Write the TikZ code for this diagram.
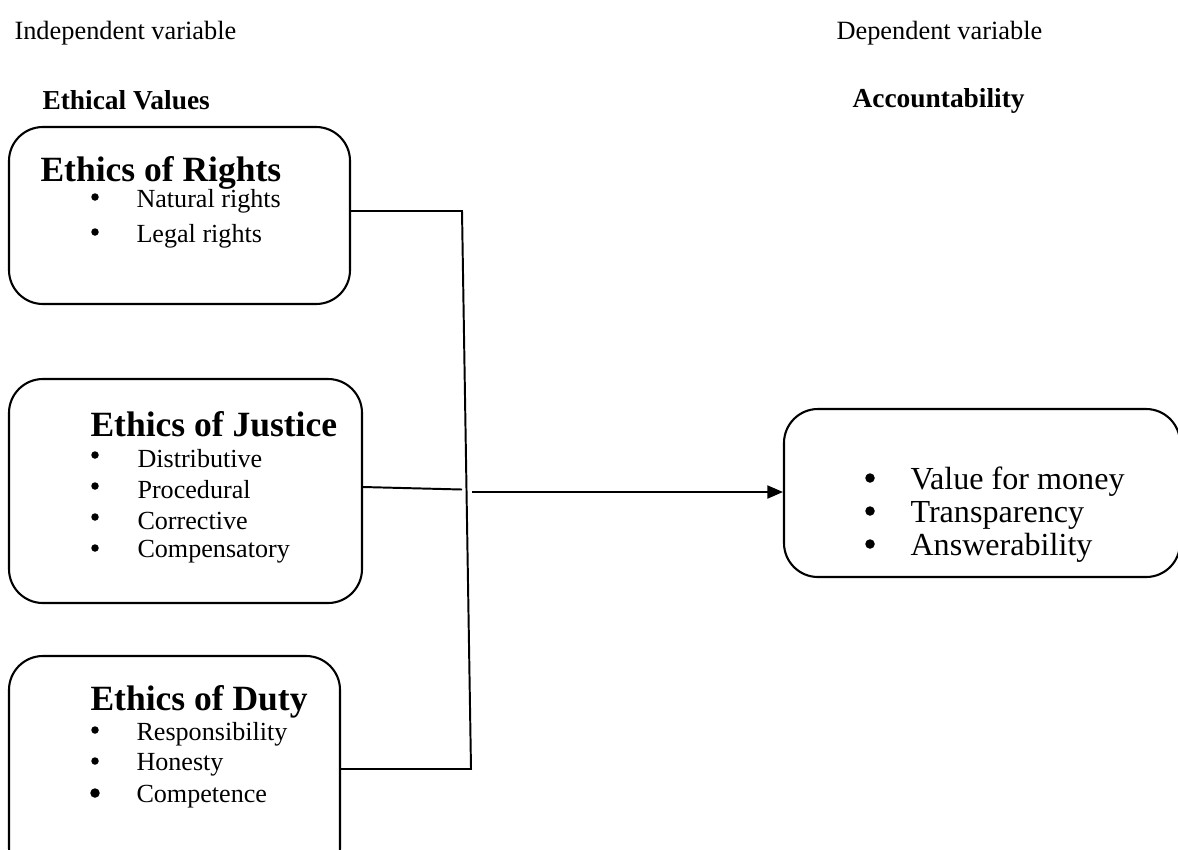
\documentclass[tikz,border=0pt]{standalone}
\usepackage{fontspec}
\setmainfont{Liberation Serif}
\usetikzlibrary{arrows.meta,calc}
\begin{document}
\begin{tikzpicture}[x=0.383pt,y=-0.383pt,
  box/.style={draw,line width=0.8pt,rounded corners=13pt,inner sep=0pt},
  plain/.style={font=\fontsize{10.1}{12}\selectfont,anchor=west,inner sep=0pt},
  head/.style={font=\fontsize{10.5}{12}\selectfont\bfseries,anchor=west,inner sep=0pt},
  bhead/.style={font=\fontsize{13.6}{16}\selectfont\bfseries,anchor=west,inner sep=0pt},
  item/.style={font=\fontsize{10}{12}\selectfont,anchor=west,inner sep=0pt},
  bul/.style={circle,fill,inner sep=0pt,minimum size=7.5*0.383pt},
  bigbul/.style={circle,fill,inner sep=0pt,minimum size=9.5*0.383pt},
  ritem/.style={font=\fontsize{12.3}{14}\selectfont,anchor=west,inner sep=0pt},
  conn/.style={line width=0.75pt}]
\useasboundingbox (0,0) rectangle (1178,849);
\clip (0,0) rectangle (1178,849);
% headers
\node[plain] (t1) at (14,33) {Independent variable};
\node[head] (t2) at (42,100) {Ethical Values};
\node[plain] (t3) at (836,33) {Dependent variable};
\node[head] (t4) at (852,101) {Accountability};
% boxes
\node[box,minimum width=341*0.383pt,minimum height=177*0.383pt] (b1) at (179.5,215.5) {};
\node[box,minimum width=353*0.383pt,minimum height=224*0.383pt] (b2) at (185.5,491) {};
\node[box,minimum width=331*0.383pt,minimum height=226*0.383pt] (b3) at (174.5,769) {};
\node[box,minimum width=396*0.383pt,minimum height=168*0.383pt] (rb) at (982,493) {};
% box 1
\node[bhead] (h1) at (40,173) {Ethics of Rights};
\node[bul] (u11) at (95,197) {};
\node[item] (i11) at (136,201) {Natural rights};
\node[bul] (u12) at (95,232) {};
\node[item] (i12) at (136,236) {Legal rights};
% box 2
\node[bhead] (h2) at (90,424) {Ethics of Justice};
\node[bul] (u21) at (95,455) {};
\node[item] (i21) at (137,459) {Distributive};
\node[bul] (u22) at (95,486) {};
\node[item] (i22) at (137,490) {Procedural};
\node[bul] (u23) at (95,517) {};
\node[item] (i23) at (137,521) {Corrective};
\node[bul] (u24) at (95,548) {};
\node[item] (i24) at (137,552) {Compensatory};
% box 3
\node[bhead] (h3) at (90,702) {Ethics of Duty};
\node[bul] (u31) at (95,730) {};
\node[item] (i31) at (136,734) {Responsibility};
\node[bul] (u32) at (95,761) {};
\node[item] (i32) at (136,765) {Honesty};
\node[bigbul] (u33) at (95,793) {};
\node[item] (i33) at (136,797) {Competence};
% right box
\node[bigbul] (r1b) at (870,478) {};
\node[ritem] (r1) at (910,482) {Value for money};
\node[bigbul] (r2b) at (870,511) {};
\node[ritem] (r2) at (910,515) {Transparency};
\node[bigbul] (r3b) at (870,544) {};
\node[ritem] (r3) at (910,548) {Answerability};
% connectors
\coordinate (j1) at (462,211);
\coordinate (j2) at (462,489.5);
\coordinate (j3) at (471,769);
\coordinate (a0) at (472,492);
\draw[conn] (b1.east |- j1) -- (j1) -- (j3) -- (b3.east);
\draw[conn] ($(b2.east)+(0,-4)$) -- (j2);
\draw[conn,-{Triangle[length=6pt,width=5pt]}] (a0) -- (rb.west |- a0);
\end{tikzpicture}
\end{document}
